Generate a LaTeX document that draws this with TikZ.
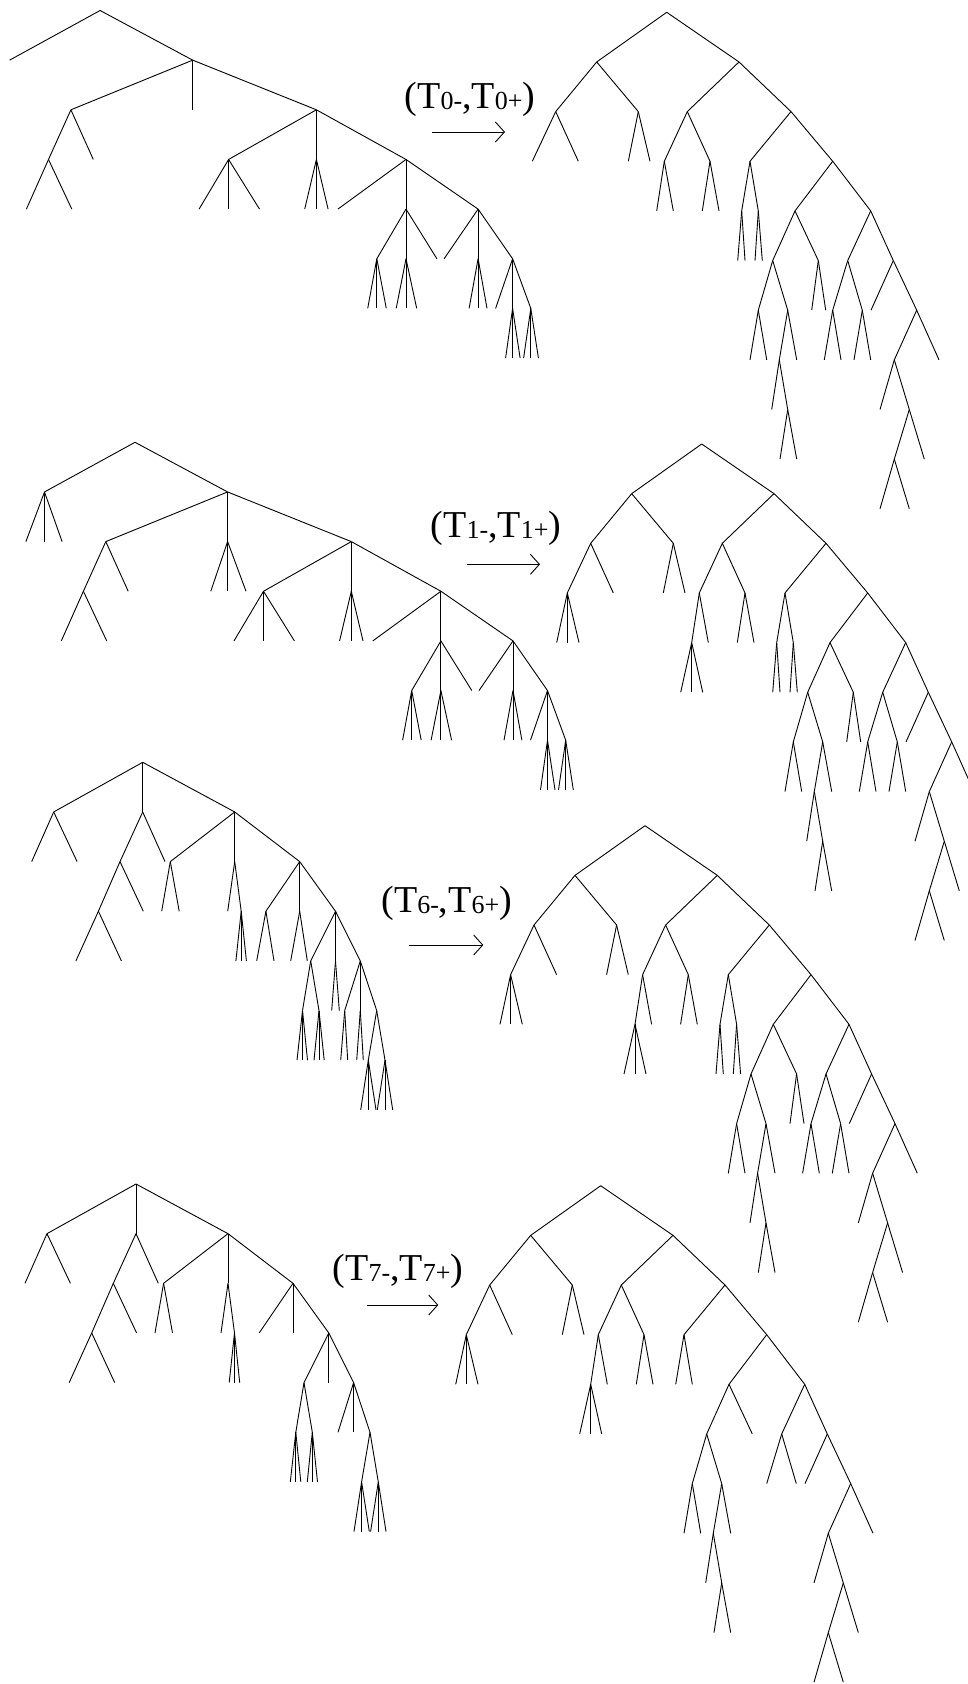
\documentclass[tikz,border=0pt]{standalone}
\usepackage{fontspec}
\setmainfont{Liberation Serif}
\usetikzlibrary{arrows.meta}
\def\LvS{49.65}
\tikzset{
  edge/.style={line width=0.9pt},
  lab/.style={font=\fontsize{38}{44}\selectfont, inner sep=0pt},
  maparrow/.style={line width=0.9pt, -{Straight Barb[length=9pt,width=20pt,line width=0.9pt]}}
}
\newcommand{\Sb}[1]{{\fontsize{26}{26}\selectfont\raisebox{-1.5pt}{#1}}}
\newcommand{\Ed}[2]{\draw[edge] (#1) -- (#2);}
\newcommand{\Lf}[3]{\draw[edge] (#1) -- (#2,#3*\LvS);}
% right-hand trees
\newcommand{\RTree}[5]{%
\begin{scope}[shift={(#2,#3)}]
 \coordinate (#1r) at (0,0);
 \coordinate (#1n1) at (-70,1*\LvS);
 \coordinate (#1n2) at (72.3,1*\LvS);
 \coordinate (#1n3) at (-111,2*\LvS);
 \coordinate (#1n4) at (-28.4,2*\LvS);
 \coordinate (#1n5) at (-134.4,3*\LvS);
 \coordinate (#1n6) at (20.6,2*\LvS);
 \coordinate (#1n7) at (124.3,2*\LvS);
 \coordinate (#1n8) at (-2.4,3*\LvS);
 \coordinate (#1n9) at (43.3,3*\LvS);
 \coordinate (#1n10) at (-10,4*\LvS);
 \coordinate (#1n11) at (83.3,3*\LvS);
 \coordinate (#1n12) at (166,3*\LvS);
 \coordinate (#1n13) at (75,4*\LvS);
 \coordinate (#1n14) at (91.6,4*\LvS);
 \coordinate (#1n15) at (128.3,4*\LvS);
 \coordinate (#1n16) at (204,4*\LvS);
 \coordinate (#1n17) at (106,5*\LvS);
 \coordinate (#1n18) at (151.6,5*\LvS);
 \coordinate (#1n19) at (91.6,6*\LvS);
 \coordinate (#1n20) at (121,6*\LvS);
 \coordinate (#1n21) at (112.6,7*\LvS);
 \coordinate (#1n22) at (121,8*\LvS);
 \coordinate (#1n23) at (181,5*\LvS);
 \coordinate (#1n24) at (226.6,5*\LvS);
 \coordinate (#1n25) at (166,6*\LvS);
 \coordinate (#1n26) at (195.6,6*\LvS);
 \coordinate (#1n27) at (250,6*\LvS);
 \coordinate (#1n28) at (227.6,7*\LvS);
 \coordinate (#1n29) at (242.6,8*\LvS);
 \coordinate (#1n30) at (227.6,9*\LvS);
 \Ed{#1r}{#1n1}\Ed{#1r}{#1n2}
 \Ed{#1n1}{#1n3}\Ed{#1n1}{#1n4}
 \Ed{#1n3}{#1n5}\Lf{#1n3}{-88.4}{3}
 \ifnum#4=1 \Lf{#1n5}{-145}{4}\Lf{#1n5}{-134.4}{4}\Lf{#1n5}{-122.7}{4}\fi
 \Lf{#1n4}{-38.4}{3}\Lf{#1n4}{-16.7}{3}
 \Ed{#1n2}{#1n6}\Ed{#1n2}{#1n7}
 \Ed{#1n6}{#1n8}\Ed{#1n6}{#1n9}
 \Ed{#1n8}{#1n10}\Lf{#1n8}{6.6}{4}
 \ifnum#4=1 \Lf{#1n10}{-21}{5}\Lf{#1n10}{-10}{5}\Lf{#1n10}{1}{5}\fi
 \Lf{#1n9}{35.6}{4}\Lf{#1n9}{52.3}{4}
 \Ed{#1n7}{#1n11}\Ed{#1n7}{#1n12}
 \Ed{#1n11}{#1n13}\Ed{#1n11}{#1n14}
 \ifnum#5=1 \Lf{#1n13}{71}{5}\Lf{#1n13}{78.3}{5}\Lf{#1n14}{88.3}{5}\Lf{#1n14}{95.6}{5}\fi
 \Ed{#1n12}{#1n15}\Ed{#1n12}{#1n16}
 \Ed{#1n15}{#1n17}\Ed{#1n15}{#1n18}
 \Ed{#1n17}{#1n19}\Ed{#1n17}{#1n20}
 \Lf{#1n19}{83.3}{7}\Lf{#1n19}{100}{7}
 \Ed{#1n20}{#1n21}\Lf{#1n20}{130}{7}
 \Lf{#1n21}{105}{8}\Ed{#1n21}{#1n22}
 \Lf{#1n22}{113.3}{9}\Lf{#1n22}{130}{9}
 \ifnum#5=1 \Lf{#1n18}{145}{6}\Lf{#1n18}{159}{6}\fi
 \Ed{#1n16}{#1n23}\Ed{#1n16}{#1n24}
 \Ed{#1n23}{#1n25}\Ed{#1n23}{#1n26}
 \ifnum#5=1 \Lf{#1n25}{157.6}{7}\Lf{#1n25}{174.3}{7}\Lf{#1n26}{187.3}{7}\Lf{#1n26}{204}{7}\fi
 \Lf{#1n24}{204.3}{6}\Ed{#1n24}{#1n27}
 \Ed{#1n27}{#1n28}\Lf{#1n27}{272.3}{7}
 \Lf{#1n28}{213.3}{8}\Ed{#1n28}{#1n29}
 \Ed{#1n29}{#1n30}\Lf{#1n29}{257.6}{9}
 \Lf{#1n30}{213.3}{10}\Lf{#1n30}{242.6}{10}
\end{scope}}
% left trees of rows 1 and 2
\newcommand{\LTreeA}[4]{%
\begin{scope}[shift={(#2,#3)}]
 \coordinate (#1r) at (0,0);
 \coordinate (#1m1) at (-90.5,1*\LvS);
 \coordinate (#1m2) at (92.6,1*\LvS);
 \coordinate (#1m3) at (-29.2,2*\LvS);
 \coordinate (#1mm) at (92.6,2*\LvS);
 \coordinate (#1m4) at (216.3,2*\LvS);
 \coordinate (#1m5) at (-51.6,3*\LvS);
 \coordinate (#1m6) at (128.5,3*\LvS);
 \coordinate (#1m7) at (216.3,3*\LvS);
 \coordinate (#1m8) at (305.9,3*\LvS);
 \coordinate (#1m9) at (305.9,4*\LvS);
 \coordinate (#1m10) at (378,4*\LvS);
 \coordinate (#1m11) at (276.7,5*\LvS);
 \coordinate (#1m12) at (305.9,5*\LvS);
 \coordinate (#1m13) at (378,5*\LvS);
 \coordinate (#1m14) at (412.5,5*\LvS);
 \coordinate (#1m15) at (412.5,6*\LvS);
 \coordinate (#1m16) at (430.7,6*\LvS);
 \Ed{#1r}{#1m1}\Ed{#1r}{#1m2}
 \ifnum#4=1 \Lf{#1m1}{-109.1}{2}\Lf{#1m1}{-90.5}{2}\Lf{#1m1}{-72.9}{2}\fi
 \Ed{#1m2}{#1m3}\Ed{#1m2}{#1mm}\Ed{#1m2}{#1m4}
 \ifnum#4=1 \Lf{#1mm}{75.8}{3}\Lf{#1mm}{92.6}{3}\Lf{#1mm}{111}{3}\fi
 \Ed{#1m3}{#1m5}\Lf{#1m3}{-6.8}{3}
 \Lf{#1m5}{-73.7}{4}\Lf{#1m5}{-28.3}{4}
 \Ed{#1m4}{#1m6}\Ed{#1m4}{#1m7}\Ed{#1m4}{#1m8}
 \Lf{#1m6}{99}{4}\Lf{#1m6}{128.5}{4}\Lf{#1m6}{159.4}{4}
 \Lf{#1m7}{204.6}{4}\Lf{#1m7}{216.3}{4}\Lf{#1m7}{228}{4}
 \Lf{#1m8}{237.8}{4}\Ed{#1m8}{#1m9}\Ed{#1m8}{#1m10}
 \Ed{#1m9}{#1m11}\Ed{#1m9}{#1m12}\Lf{#1m9}{336.8}{5}
 \Lf{#1m11}{267.6}{6}\Lf{#1m11}{276.7}{6}\Lf{#1m11}{286.2}{6}
 \Lf{#1m12}{296.1}{6}\Lf{#1m12}{305.9}{6}\Lf{#1m12}{316.6}{6}
 \Lf{#1m10}{344}{5}\Ed{#1m10}{#1m13}\Ed{#1m10}{#1m14}
 \Lf{#1m13}{369}{6}\Lf{#1m13}{378}{6}\Lf{#1m13}{386.9}{6}
 \Lf{#1m14}{395.5}{6}\Ed{#1m14}{#1m15}\Ed{#1m14}{#1m16}
 \Lf{#1m15}{405.5}{7}\Lf{#1m15}{412.5}{7}\Lf{#1m15}{420}{7}
 \Lf{#1m16}{423.5}{7}\Lf{#1m16}{430.7}{7}\Lf{#1m16}{438.3}{7}
\end{scope}}
% left trees of rows 3 and 4
\newcommand{\LTreeB}[4]{%
\begin{scope}[shift={(#2,#3)}]
 \coordinate (#1r) at (0,0);
 \coordinate (#1e1) at (-89,1*\LvS);
 \coordinate (#1e2) at (0,1*\LvS);
 \coordinate (#1e3) at (92,1*\LvS);
 \coordinate (#1e4) at (-22.7,2*\LvS);
 \coordinate (#1e5) at (-44.3,3*\LvS);
 \coordinate (#1e6) at (27.6,2*\LvS);
 \coordinate (#1e7) at (92,2*\LvS);
 \coordinate (#1e8) at (157,2*\LvS);
 \coordinate (#1e9) at (98.5,3*\LvS);
 \coordinate (#1e10) at (123.2,3*\LvS);
 \coordinate (#1e11) at (157,3*\LvS);
 \coordinate (#1e12) at (192.8,3*\LvS);
 \coordinate (#1e13) at (168,4*\LvS);
 \coordinate (#1e14) at (192.8,4*\LvS);
 \coordinate (#1e15) at (217.6,4*\LvS);
 \coordinate (#1e16) at (159.8,5*\LvS);
 \coordinate (#1e17) at (176.3,5*\LvS);
 \coordinate (#1e18) at (202,5*\LvS);
 \coordinate (#1e19) at (217.6,5*\LvS);
 \coordinate (#1e20) at (234,5*\LvS);
 \coordinate (#1e21) at (225.6,6*\LvS);
 \coordinate (#1e22) at (242.3,6*\LvS);
 \Ed{#1r}{#1e1}\Ed{#1r}{#1e2}\Ed{#1r}{#1e3}
 \Lf{#1e1}{-111}{2}\Lf{#1e1}{-65.6}{2}
 \Ed{#1e2}{#1e4}\Lf{#1e2}{22.3}{2}
 \Ed{#1e4}{#1e5}\Lf{#1e4}{0.6}{3}
 \Lf{#1e5}{-66.8}{4}\Lf{#1e5}{-21.3}{4}
 \Ed{#1e3}{#1e6}\Ed{#1e3}{#1e7}\Ed{#1e3}{#1e8}
 \Lf{#1e6}{19}{3}\Lf{#1e6}{36.5}{3}
 \Lf{#1e7}{85}{3}\Ed{#1e7}{#1e9}
 \Lf{#1e9}{93.2}{4}\Lf{#1e9}{98.5}{4}\Lf{#1e9}{103.7}{4}
 \Ed{#1e8}{#1e10}\Ed{#1e8}{#1e11}\Ed{#1e8}{#1e12}
 \ifnum#4=1 \Lf{#1e10}{114}{4}\Lf{#1e10}{131.3}{4}\Lf{#1e11}{148}{4}\Lf{#1e11}{164.6}{4}\fi
 \Ed{#1e12}{#1e13}\Ed{#1e12}{#1e14}\Ed{#1e12}{#1e15}
 \Ed{#1e13}{#1e16}\Ed{#1e13}{#1e17}
 \Lf{#1e16}{154.3}{6}\Lf{#1e16}{159.8}{6}\Lf{#1e16}{164.8}{6}
 \Lf{#1e17}{171.3}{6}\Lf{#1e17}{176.3}{6}\Lf{#1e17}{181.5}{6}
 \ifnum#4=1 \Lf{#1e14}{189}{5}\Lf{#1e14}{196.6}{5}\fi
 \Ed{#1e15}{#1e18}\Ed{#1e15}{#1e19}\Ed{#1e15}{#1e20}
 \ifnum#4=1 \Lf{#1e18}{198}{6}\Lf{#1e18}{205}{6}\Lf{#1e19}{214}{6}\Lf{#1e19}{220.6}{6}\fi
 \Ed{#1e20}{#1e21}\Ed{#1e20}{#1e22}
 \Lf{#1e21}{218}{7}\Lf{#1e21}{225.6}{7}\Lf{#1e21}{233.3}{7}
 \Lf{#1e22}{234.6}{7}\Lf{#1e22}{242.3}{7}\Lf{#1e22}{250}{7}
\end{scope}}
\begin{document}
\begin{tikzpicture}[x=1pt,y=-1pt]
\useasboundingbox (0,0) rectangle (967,1684);
% row 1
\LTreeA{A}{100.1}{10.5}{0}
\RTree{B}{666.7}{12.3}{0}{1}
\node[lab] (t1) at (470,99) {(T\Sb{0-},T\Sb{0+})};
\coordinate (a1s) at (432,132); \coordinate (a1e) at (505,132);
\draw[maparrow] (a1s) -- (a1e);
% row 2
\LTreeA{C}{135}{442.3}{1}
\RTree{D}{701.7}{444}{1}{1}
\node[lab] (t2) at (496,528) {(T\Sb{1-},T\Sb{1+})};
\coordinate (a2s) at (467,564.3); \coordinate (a2e) at (540,564.3);
\draw[maparrow] (a2s) -- (a2e);
% row 3
\LTreeB{E}{142.7}{762.3}{1}
\RTree{F}{645}{825.7}{1}{1}
\node[lab] (t3) at (446.7,903) {(T\Sb{6-},T\Sb{6+})};
\coordinate (a3s) at (409,945); \coordinate (a3e) at (483.3,945);
\draw[maparrow] (a3s) -- (a3e);
% row 4
\LTreeB{G}{136}{1184}{0}
\RTree{H}{600.7}{1185.7}{1}{0}
\node[lab] (t4) at (398,1271) {(T\Sb{7-},T\Sb{7+})};
\coordinate (a4s) at (366.7,1305); \coordinate (a4e) at (438.3,1305);
\draw[maparrow] (a4s) -- (a4e);
\end{tikzpicture}
\end{document}
